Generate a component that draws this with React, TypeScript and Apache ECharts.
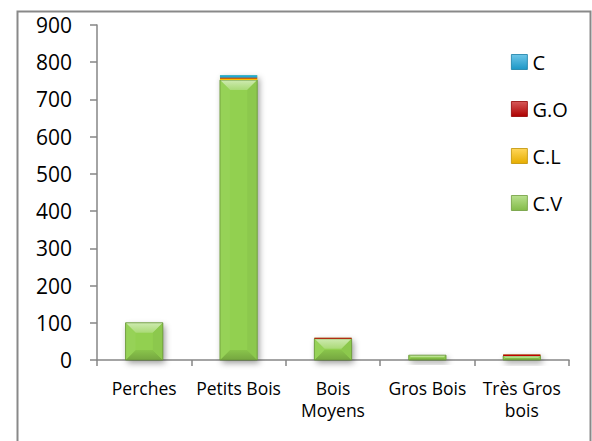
import React, { useEffect, useRef } from "react";
import * as echarts from "echarts";

// Size classes along the x axis
const categories = ["Perches", "Petits Bois", "Bois\nMoyens", "Gros Bois", "Très Gros\nbois"];

// Stacked values, bottom to top: C.V, C.L, G.O, C
const cvValues = [100, 752, 57, 13, 11];
const clValues = [0, 4, 0, 0, 0];
const goValues = [0, 3, 3, 0, 4];
const cValues = [0, 6, 0, 0, 0];

const stackNames = ["C.V", "C.L", "G.O", "C"];
const stackValues = [cvValues, clValues, goValues, cValues];
const stackColors = ["#92D050", "#FFC000", "#C00000", "#1FA8DC"];

const legendOrder = ["C", "G.O", "C.L", "C.V"];

const yMin = 0;
const yMax = 900;
const yStep = 100;

const FONT = "'Open Sans', 'Liberation Sans', sans-serif";

function mix(hex: string, target: string, t: number): string {
  const a = parseInt(hex.slice(1), 16);
  const b = parseInt(target.slice(1), 16);
  const ch = (v: number, s: number) => (v >> s) & 255;
  const r = Math.round(ch(a, 16) + (ch(b, 16) - ch(a, 16)) * t);
  const g = Math.round(ch(a, 8) + (ch(b, 8) - ch(a, 8)) * t);
  const bl = Math.round(ch(a, 0) + (ch(b, 0) - ch(a, 0)) * t);
  return "#" + ((1 << 24) | (r << 16) | (g << 8) | bl).toString(16).slice(1);
}

const lighten = (c: string, t: number) => mix(c, "#ffffff", t);
const darken = (c: string, t: number) => mix(c, "#000000", t);

function vGrad(top: string, bottom: string) {
  return new echarts.graphic.LinearGradient(0, 0, 0, 1, [
    { offset: 0, color: top },
    { offset: 1, color: bottom },
  ]);
}

const BAR_RATIO = 0.395;

function barRect(api: any) {
  const ci = api.value(0);
  const lo = api.value(1);
  const hi = api.value(2);
  const band = api.size([1, 0])[0];
  const w = band * BAR_RATIO;
  const pLo = api.coord([ci, lo]);
  const pHi = api.coord([ci, hi]);
  return { x0: pLo[0] - w / 2, x1: pLo[0] + w / 2, y0: pHi[1], y1: pLo[1], w, h: pLo[1] - pHi[1] };
}

// Bevelled bar segment: four sloped facets around a flat face
function bevelRenderer(color: string) {
  return (_params: any, api: any) => {
    if (api.value(2) <= api.value(1)) return null;
    const { x0, x1, y0, y1, w, h } = barRect(api);
    const b = Math.min(10, h / 2, w / 2);
    const children: any[] = [];
    if (h < 3) {
      children.push({
        type: "rect",
        shape: { x: x0, y: y0, width: w, height: h },
        style: { fill: color },
      });
      return { type: "group", children };
    }
    children.push({
      type: "rect",
      shape: { x: x0 + b, y: y0 + b, width: w - 2 * b, height: h - 2 * b },
      style: { fill: color },
    });
    children.push({
      type: "polygon",
      shape: { points: [[x0, y0], [x1, y0], [x1 - b, y0 + b], [x0 + b, y0 + b]] },
      style: { fill: vGrad(lighten(color, 0.55), lighten(color, 0.22)) },
    });
    children.push({
      type: "polygon",
      shape: { points: [[x0, y1], [x1, y1], [x1 - b, y1 - b], [x0 + b, y1 - b]] },
      style: { fill: vGrad(darken(color, 0.06), darken(color, 0.2)) },
    });
    children.push({
      type: "polygon",
      shape: { points: [[x0, y0], [x0 + b, y0 + b], [x0 + b, y1 - b], [x0, y1]] },
      style: { fill: lighten(color, 0.04) },
    });
    children.push({
      type: "polygon",
      shape: { points: [[x1, y0], [x1 - b, y0 + b], [x1 - b, y1 - b], [x1, y1]] },
      style: { fill: darken(color, 0.04) },
    });
    children.push({
      type: "rect",
      shape: { x: x0, y: y0, width: w, height: h },
      style: { fill: "none", stroke: darken(color, 0.3), lineWidth: 0.8 },
    });
    return { type: "group", children };
  };
}

// Soft drop shadow under each whole stack
function shadowRenderer(_params: any, api: any) {
  if (api.value(2) <= api.value(1)) return null;
  const { x0, y0, w, h } = barRect(api);
  return {
    type: "rect",
    shape: { x: x0, y: y0, width: w, height: h },
    style: {
      fill: "#92D050",
      shadowBlur: 6,
      shadowOffsetX: 2,
      shadowOffsetY: 3,
      shadowColor: "rgba(0,0,0,0.4)",
    },
  };
}

function buildOption() {
  const totals = categories.map((_, i) => stackValues.reduce((s, arr) => s + arr[i], 0));
  const running = categories.map(() => 0);

  const stackSeries = stackNames.map((name, si) => {
    const data = categories.map((_, i) => {
      const lo = running[i];
      const hi = lo + stackValues[si][i];
      running[i] = hi;
      return [i, lo, hi];
    });
    return {
      name,
      type: "custom",
      coordinateSystem: "cartesian2d",
      renderItem: bevelRenderer(stackColors[si]),
      encode: { x: 0, y: [1, 2] },
      itemStyle: { color: stackColors[si] },
      data,
      z: 3,
    };
  });

  const shadowSeries = {
    name: "ombre",
    type: "custom",
    coordinateSystem: "cartesian2d",
    renderItem: shadowRenderer,
    encode: { x: 0, y: [1, 2] },
    data: totals.map((t, i) => [i, 0, t]),
    z: 2,
    silent: true,
  };

  const legendData = legendOrder.map((name) => {
    const c = stackColors[stackNames.indexOf(name)];
    return {
      name,
      itemStyle: {
        color: vGrad(lighten(c, 0.35), darken(c, 0.1)),
        borderColor: darken(c, 0.25),
        borderWidth: 0.8,
      },
    };
  });

  return {
    animation: false,
    backgroundColor: "#ffffff",
    textStyle: { fontFamily: FONT },
    grid: { left: 97, right: 23, top: 25, bottom: 81, containLabel: false },
    legend: {
      orient: "vertical",
      left: 506,
      top: 47,
      icon: "rect",
      itemWidth: 16,
      itemHeight: 15,
      itemGap: 27,
      selectedMode: false,
      data: legendData,
      textStyle: { fontFamily: FONT, fontSize: 20, color: "#000", lineHeight: 20 },
    },
    xAxis: {
      type: "category",
      data: categories,
      axisLine: { lineStyle: { color: "#868686", width: 1.5 } },
      axisTick: { show: true, alignWithLabel: false, length: 6, lineStyle: { color: "#868686", width: 1.5 } },
      axisLabel: {
        fontFamily: FONT,
        fontSize: 17.5,
        lineHeight: 22,
        color: "#000",
        margin: 17,
        interval: 0,
      },
      splitLine: { show: false },
    },
    yAxis: {
      type: "value",
      min: yMin,
      max: yMax,
      interval: yStep,
      axisLine: { show: true, lineStyle: { color: "#868686", width: 1.5 } },
      axisTick: { show: true, length: 7, lineStyle: { color: "#868686", width: 1.5 } },
      axisLabel: { fontFamily: FONT, fontSize: 21, color: "#000", margin: 25 },
      splitLine: { show: false },
    },
    graphic: [
      {
        type: "rect",
        left: 15,
        top: 9,
        shape: { x: 0, y: 0, width: 573, height: 445 },
        style: { fill: "none", stroke: "#898989", lineWidth: 2 },
        silent: true,
        z: 0,
      },
    ],
    series: [shadowSeries, ...stackSeries],
  };
}

export default function App() {
  const ref = useRef<HTMLDivElement>(null);

  useEffect(() => {
    document.body.style.margin = "0";
    if (!ref.current) return;
    const chart = echarts.init(ref.current, undefined, { renderer: "svg" });
    chart.setOption(buildOption() as any);
    return () => chart.dispose();
  }, []);

  return <div ref={ref} style={{ width: 592, height: 441 }} />;
}
